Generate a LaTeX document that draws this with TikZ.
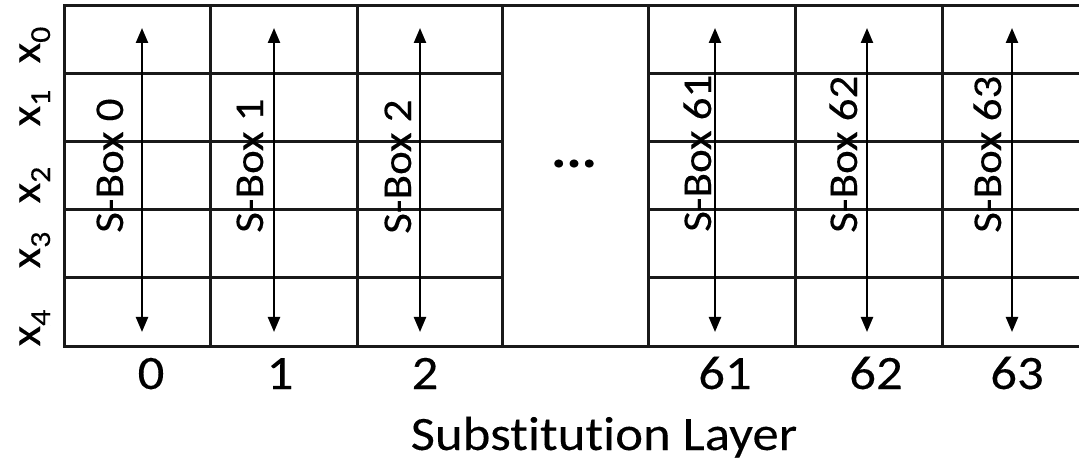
\documentclass[tikz,border=0pt]{standalone}
\usepackage{fontspec}
\setmainfont{Carlito}[FakeStretch=1.1, FakeBold=0.15, Ligatures=NoCommon]
\usetikzlibrary{arrows.meta}
\begin{document}
\begin{tikzpicture}[x=1pt,y=-1pt,
  grid/.style={line width=3pt, black!90, line cap=rect},
  sbarrow/.style={line width=2.3pt, black, {Triangle[length=15pt,width=12pt]}-{Triangle[length=15pt,width=12pt]}},
  sblabel/.style={rotate=90, anchor=base west, inner sep=0pt, font=\fontsize{41}{45}\selectfont},
  xlabel/.style={rotate=90, anchor=base, inner sep=0pt, font=\fontsize{43}{46}\selectfont},
  collabel/.style={anchor=base, inner sep=0pt, font=\fontsize{48}{54}\selectfont},
]
\fill[white] (0,0) rectangle (1079,462);
\useasboundingbox (0,0) rectangle (1079,462);
% grid
\draw[grid] (64,6) -- (1079,6);
\draw[grid] (64,346) -- (1079,346);
\foreach \y in {74,142,210,278} {
  \draw[grid] (64,\y) -- (502,\y);
  \draw[grid] (648,\y) -- (1079,\y);
}
\foreach \x in {64,210,357,502,648,795,942} \draw[grid] (\x,6) -- (\x,346);
% arrows
\foreach \i/\x in {0/142,1/274,2/420,61/715,62/867,63/1012} {
  \coordinate (t\i) at (\x,28);
  \coordinate (b\i) at (\x,332);
  \draw[sbarrow] (t\i) -- (b\i);
}
% S-Box labels
\node[sblabel] (s0) at (123,233) {S-Box 0};
\node[sblabel] (s1) at (263,233) {S-Box 1};
\node[sblabel] (s2) at (411,234) {S-Box 2};
\node[sblabel] (s61) at (711,232) {S-Box 61};
\node[sblabel] (s62) at (857,233) {S-Box 62};
\node[sblabel] (s63) at (1001,233) {S-Box 63};
% row labels
\newcommand{\xsub}[1]{x\raisebox{-10pt}{\fontsize{29}{30}\selectfont #1}}
\node[xlabel] (x0) at (40,45) {\xsub{0}};
\node[xlabel] (x1) at (40,108) {\xsub{1}};
\node[xlabel] (x2) at (40,185) {\xsub{2}};
\node[xlabel] (x3) at (40,250) {\xsub{3}};
\node[xlabel] (x4) at (40,328) {\xsub{4}};
% dots
\node[anchor=base, inner sep=0pt, font=\fontsize{52}{56}\selectfont\bfseries] (dots) at (574,167) {...};
% column numbers
\node[collabel] (n0) at (151,389) {0};
\node[collabel] (n1) at (280,389) {1};
\node[collabel] (n2) at (425,389) {2};
\node[collabel] (n61) at (725,389) {61};
\node[collabel] (n62) at (876,389) {62};
\node[collabel] (n63) at (1017,389) {63};
% title
\node[collabel] (title) at (604,450) {Substitution Layer};
\end{tikzpicture}
\end{document}
